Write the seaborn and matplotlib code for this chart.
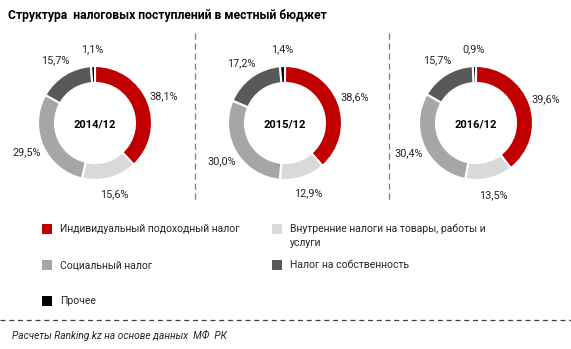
import matplotlib
matplotlib.use("Agg")
import matplotlib.pyplot as plt
import numpy as np
import seaborn as sns
from matplotlib.patches import Rectangle

# Shares of tax revenue in the local budget, %
periods = ["2014/12", "2015/12", "2016/12"]
categories = [
    "Индивидуальный подоходный налог",
    "Внутренние налоги на товары, работы и\nуслуги",
    "Социальный налог",
    "Налог на собственность",
    "Прочее",
]
shares_2014 = [38.1, 15.6, 29.5, 15.7, 1.1]
shares_2015 = [38.6, 12.9, 30.0, 17.2, 1.4]
shares_2016 = [39.6, 13.5, 30.4, 15.7, 0.9]
series = [shares_2014, shares_2015, shares_2016]

colors = sns.color_palette(["#C00000", "#D9D9D9", "#A6A6A6", "#595959", "#000000"])

sns.set_style("white")
plt.rcParams["font.family"] = ["Roboto", "DejaVu Sans"]

W, H = 571, 349
fig = plt.figure(figsize=(W / 100, H / 100), dpi=100)
ax = fig.add_axes([0, 0, 1, 1])
ax.set_axis_off()


def Y(y):
    # top-down pixel row -> axis coordinate
    return H - y


txt_color = "#262626"
centers_x = [95, 285, 476]
cy = 123
r_out, ring = 57, 17

for cx, vals, period in zip(centers_x, series, periods):
    wedges, _ = ax.pie(
        vals, colors=colors, startangle=90, counterclock=False,
        center=(cx, Y(cy)), radius=r_out,
        wedgeprops=dict(width=ring, edgecolor="white", linewidth=1.5),
    )
    for w, v in zip(wedges, vals):
        ang = np.deg2rad((w.theta1 + w.theta2) / 2)
        lx = cx + 1.3 * r_out * np.cos(ang)
        ly = Y(cy) + 1.3 * r_out * np.sin(ang)
        ax.text(lx, ly, f"{v:.1f}%".replace(".", ","), ha="center", va="center",
                fontsize=7.8, color=txt_color)
    ax.text(cx, Y(cy + 2), period, ha="center", va="center", fontsize=8,
            fontweight="bold", color="#000000")

ax.set_xlim(0, W)
ax.set_ylim(0, H)
ax.set_aspect("equal")

# Title
ax.text(8, Y(15), "Структура  налоговых поступлений в местный бюджет",
        ha="left", va="center", fontsize=8.7, fontweight="bold", color="#000000")

# Vertical separators between the rings
for x in [195, 389]:
    ax.plot([x, x], [Y(33), Y(200)], color="#7F7F7F", lw=0.9, ls=(0, (5, 3)))

# Legend drawn as swatches with labels
legend_items = [
    (0, 42, 229), (2, 42, 265), (4, 42, 301),
    (1, 272, 229), (3, 272, 265),
]
for idx, x, y in legend_items:
    ax.add_patch(Rectangle((x, Y(y) - 5), 10, 10, color=colors[idx], lw=0))
    va = "top" if "\n" in categories[idx] else "center"
    ty = Y(y) + 6 if va == "top" else Y(y)
    ax.text(x + 18, ty, categories[idx], ha="left", va=va, fontsize=7.5,
            color=txt_color, linespacing=1.55)

# Footer separator and source note
ax.plot([0, W], [Y(320), Y(320)], color="#404040", lw=0.9, ls=(0, (4, 3)))
ax.text(12, Y(335), "Расчеты Ranking.kz на основе данных  МФ  РК",
        ha="left", va="center", fontsize=7.3, style="italic", color=txt_color)

fig.savefig("out.png", dpi=100)
